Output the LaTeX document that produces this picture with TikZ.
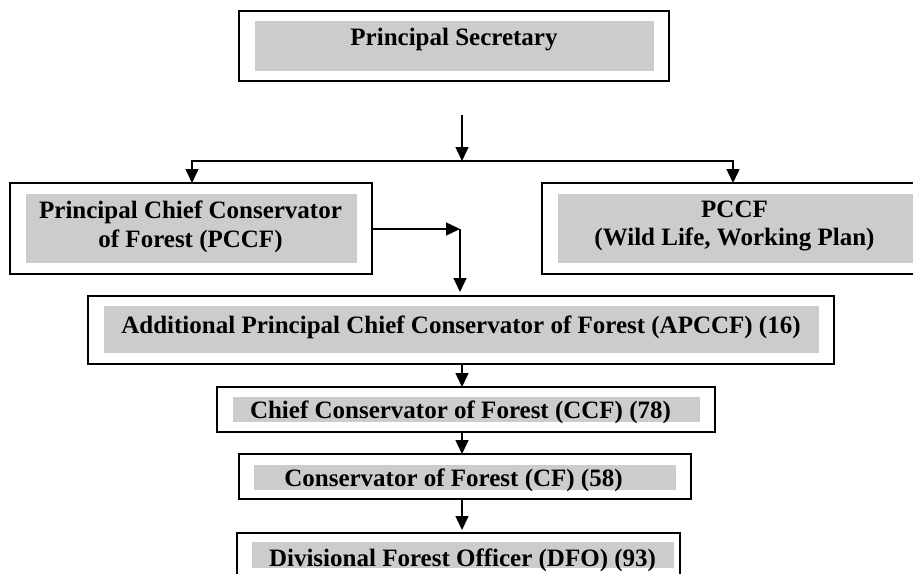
\documentclass[tikz,border=0pt]{standalone}
\usepackage{fontspec}
\setmainfont{Liberation Serif}
\usetikzlibrary{arrows.meta}
\definecolor{boxgray}{RGB}{204,204,204}
\begin{document}
\begin{tikzpicture}[x=1pt,y=-1pt,
  outerbox/.style={draw=black, line width=2pt, inner sep=0pt, outer sep=0pt, rectangle},
  graybox/.style={fill=boxgray, draw=none, inner sep=0pt, outer sep=0pt, rectangle},
  lbl/.style={font=\fontsize{25pt}{29pt}\selectfont\bfseries, inner sep=0pt, anchor=base},
  conn/.style={line width=1.5pt},
  tipx/.tip={Triangle[width=13pt,length=14pt]},
  arr/.style={conn, -tipx}]
\useasboundingbox (0,0) rectangle (913,573);
\fill[white] (0,0) rectangle (913,573);
\clip (0,0) rectangle (913,573);

% Principal Secretary
\node[outerbox, minimum width=430pt, minimum height=70pt] (ps) at (454,46) {};
\node[graybox, minimum width=399pt, minimum height=50pt] (psg) at (454.5,46) {};
\node[lbl] (pst) at (454,45) {Principal Secretary};

% PCCF (left)
\node[outerbox, minimum width=362pt, minimum height=91pt] (pccf) at (191,228.5) {};
\node[graybox, minimum width=331pt, minimum height=69pt] (pccfg) at (191.5,228.5) {};
\node[lbl] (pccft1) at (190.5,218) {Principal Chief Conservator};
\node[lbl] (pccft2) at (190.5,247) {of Forest (PCCF)};

% PCCF (right)
\node[outerbox, minimum width=388pt, minimum height=91pt] (pccfb) at (736,228.5) {};
\node[graybox, minimum width=362pt, minimum height=69pt] (pccfbg) at (739,228.5) {};
\node[lbl] (pccfbt1) at (734.5,217) {PCCF};
\node[lbl] (pccfbt2) at (734.5,245) {(Wild Life, Working Plan)};

% APCCF
\node[outerbox, minimum width=746pt, minimum height=68pt] (apccf) at (461,330) {};
\node[graybox, minimum width=715pt, minimum height=47pt] (apccfg) at (461.5,329.5) {};
\node[lbl] (apccft) at (461,333) {Additional Principal Chief Conservator of Forest (APCCF) (16)};

% CCF
\node[outerbox, minimum width=498pt, minimum height=45pt] (ccf) at (466,409.5) {};
\node[graybox, minimum width=467pt, minimum height=25pt] (ccfg) at (466.5,409.5) {};
\node[lbl] (ccft) at (460.5,418.5) {Chief Conservator of Forest (CCF) (78)};

% CF
\node[outerbox, minimum width=452pt, minimum height=45pt] (cf) at (465,476.5) {};
\node[graybox, minimum width=422pt, minimum height=25pt] (cfg) at (465,477.5) {};
\node[lbl] (cft) at (453.5,486) {Conservator of Forest (CF) (58)};

% DFO
\node[outerbox, minimum width=443pt, minimum height=67pt] (dfo) at (458.5,566.5) {};
\node[graybox, minimum width=422pt, minimum height=26pt] (dfog) at (463,555) {};
\node[lbl] (dfot) at (462.5,566) {Divisional Forest Officer (DFO) (93)};

% connectors
\coordinate (s) at (462,115);
\coordinate (jl) at (192,161);
\coordinate (jr) at (733,161);
\coordinate (k) at (460,229);
\coordinate (mid) at (462,0);

\draw[arr] (s) -- (s |- jl);
\draw[conn, tipx-tipx] (jl |- pccf.north) -- (jl) -- (jr) -- (jr |- pccfb.north);
\draw[arr] (pccf.east |- k) -- (k);
\draw[arr, shorten >=4pt] (k) -- (k |- apccf.north);
\draw[arr] (apccf.south -| mid) -- (ccf.north -| mid);
\draw[arr] (ccf.south -| mid) -- (cf.north -| mid);
\draw[arr, shorten >=3pt] (cf.south -| mid) -- (dfo.north -| mid);
\end{tikzpicture}
\end{document}
